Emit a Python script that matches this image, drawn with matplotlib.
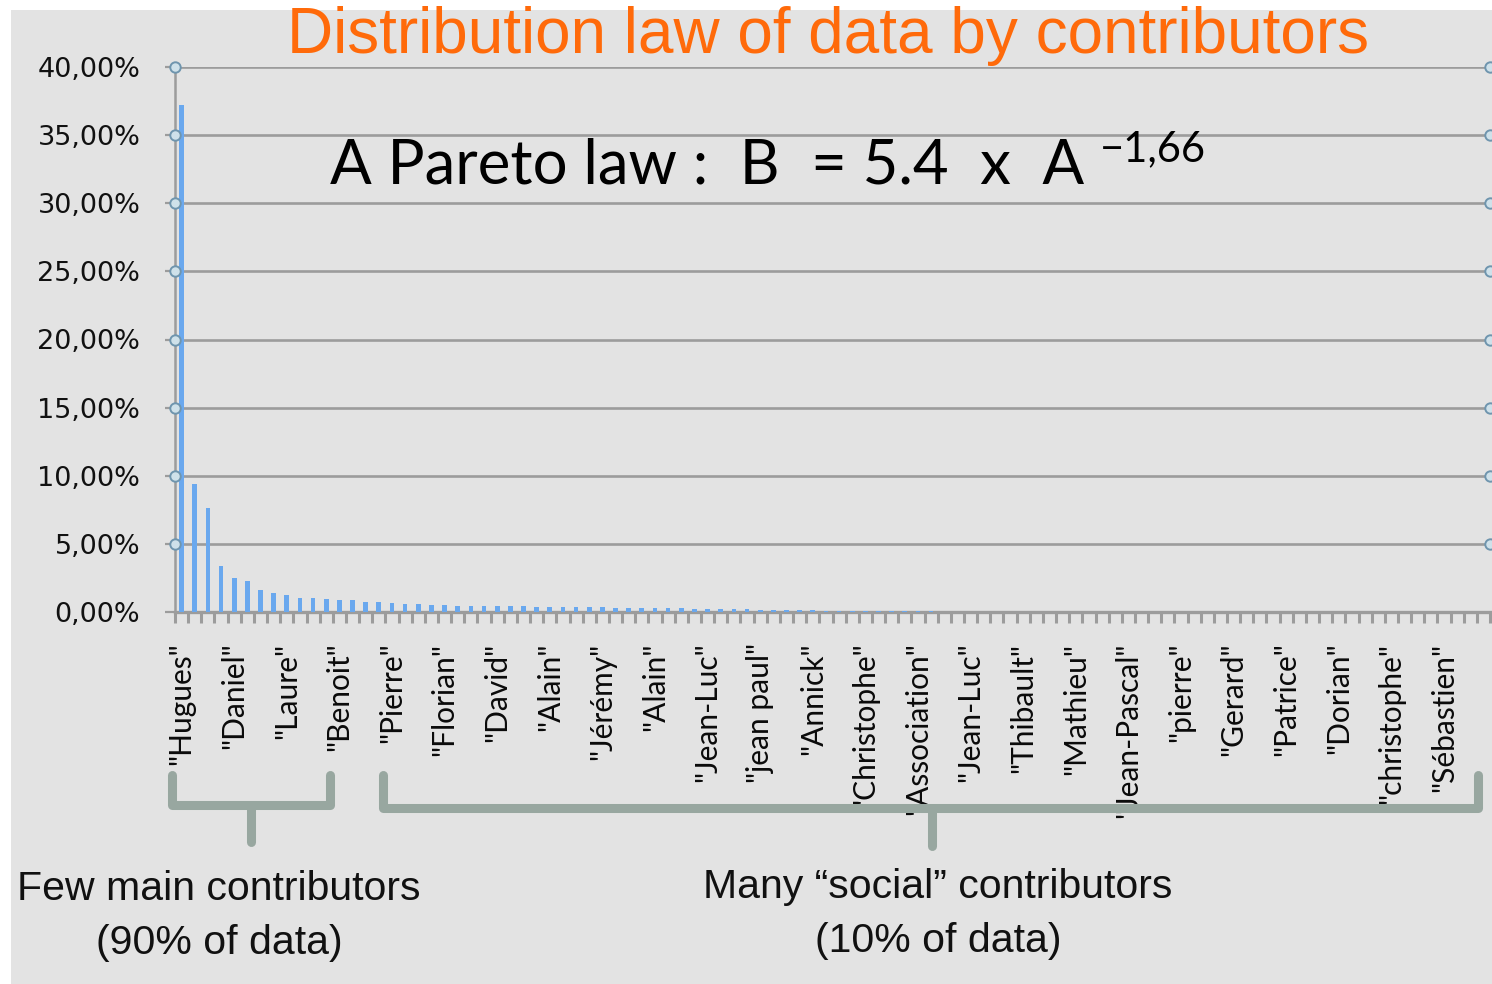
import matplotlib
matplotlib.use("Agg")
import matplotlib.pyplot as plt
import matplotlib.transforms as mtransforms
from matplotlib.patches import Rectangle
from matplotlib.lines import Line2D
import numpy as np

# ---------------- data ----------------
shares_pct = [
    37.2, 9.4, 7.6, 3.4, 2.5, 2.25, 1.6, 1.38, 1.25, 1.05,
    1.0, 0.95, 0.9, 0.85, 0.72, 0.7, 0.65, 0.6, 0.58, 0.53,
    0.5, 0.47, 0.45, 0.44, 0.43, 0.42, 0.41, 0.4, 0.39, 0.38,
    0.37, 0.36, 0.34, 0.32, 0.3, 0.29, 0.28, 0.27, 0.26, 0.25,
    0.24, 0.22, 0.2, 0.19, 0.18, 0.16, 0.15, 0.14, 0.12, 0.11,
    0.1, 0.09, 0.08, 0.07, 0.06, 0.05, 0.04, 0.04, 0.03, 0.03,
    0.03, 0.02, 0.02, 0.02, 0.02, 0.02, 0.02, 0.02, 0.02, 0.02,
    0.02, 0.02, 0.02, 0.02, 0.02, 0.02, 0.02, 0.02, 0.02, 0.02,
    0.02, 0.02, 0.02, 0.02, 0.02, 0.02, 0.02, 0.02, 0.02, 0.02,
    0.02, 0.02, 0.02, 0.02, 0.02, 0.02, 0.02, 0.02, 0.02, 0.02,
]
shown_names = [
    "Hugues", "Daniel", "Laure", "Benoit", "Pierre", "Florian", "David",
    "Alain", "Jérémy", "Alain", "Jean-Luc", "jean paul", "Annick",
    "Christophe", "Association", "Jean-Luc", "Thibault", "Mathieu",
    "Jean-Pascal", "pierre", "Gerard", "Patrice", "Dorian", "christophe",
    "Sébastien",
]
label_step = 4
y_ticks = [0, 5, 10, 15, 20, 25, 30, 35, 40]
y_tick_labels = ["0,00%", "5,00%", "10,00%", "15,00%", "20,00%",
                 "25,00%", "30,00%", "35,00%", "40,00%"]

title = "Distribution law of data by contributors"
law_text = "A Pareto law :  B  = 5.4  x  A"
law_exp = "\u22121,66"
group_main = "Few main contributors\n(90% of data)"
group_social = "Many \u201csocial\u201d contributors\n(10% of data)"

# ---------------- figure ----------------
W, H = 1492, 984
fig = plt.figure(figsize=(W / 100, H / 100), dpi=100)
fig.patch.set_facecolor("white")
bg = Rectangle((11 / W, 0), 1 - 11 / W, 1 - 10 / H, transform=fig.transFigure,
               facecolor="#e3e3e3", edgecolor="none", zorder=-10)
fig.add_artist(bg)

def px(x, y):
    return x / W, 1 - y / H

ax_left, ax_top = px(175, 67)
ax_right, ax_bot = px(1490, 612)
ax = fig.add_axes([ax_left, ax_bot, ax_right - ax_left, ax_top - ax_bot])
ax.set_facecolor("none")

n = len(shares_pct)
xs = np.arange(n)
ax.bar(xs, shares_pct, width=0.36, color="#6aa8ee", edgecolor="none", zorder=3)

ax.set_xlim(-0.5, n - 0.5)
ax.set_ylim(0, 40)

# grid lines
for yv in y_ticks[1:]:
    ax.axhline(yv, color="#9c9c9c", lw=1.9, zorder=1)
# circles at both ends
ax.plot([-0.5] * 8, y_ticks[1:], ls="none", marker="o", ms=7.5,
        mfc="#cfe1ea", mec="#6f95ae", mew=1.4, clip_on=False, zorder=5)
ax.plot([n - 0.5] * 8, y_ticks[1:], ls="none", marker="o", ms=7.5,
        mfc="#cfe1ea", mec="#6f95ae", mew=1.4, clip_on=False, zorder=5)

for s in ["top", "right"]:
    ax.spines[s].set_visible(False)
ax.spines["left"].set_color("#9c9c9c")
ax.spines["left"].set_linewidth(1.8)
ax.spines["bottom"].set_color("#9c9c9c")
ax.spines["bottom"].set_linewidth(2.4)

ax.set_yticks(y_ticks)
ax.set_yticklabels(y_tick_labels, fontsize=19.5, family="DejaVu Sans", color="#111111")
ax.tick_params(axis="y", length=7, width=1.6, color="#9c9c9c", pad=18)

# x: minor ticks at category boundaries, labels every 4th
ax.set_xticks(np.arange(-0.5, n, 1.0), minor=True)
label_pos = xs[::label_step][:len(shown_names)]
ax.set_xticks(label_pos)
ax.set_xticklabels(['"%s"' % s for s in shown_names], rotation=90,
                   fontsize=21.5, family="Lato", color="#0a0a0a", va="top", ha="center")
ax.tick_params(axis="x", which="major", length=0, pad=22)
ax.tick_params(axis="x", which="minor", length=8, width=2.2, color="#9c9c9c")

# ---------------- texts ----------------
fig.text(828 / W, 1 - 53 / H, title, ha="center", va="baseline",
         fontsize=46, color="#ff6a0a", family="Liberation Sans")

t_law = fig.text(330 / W, 1 - 183 / H, law_text, ha="left", va="baseline",
                 fontsize=44.5, color="black", family="Lato")
fig.canvas.draw()
bb = t_law.get_window_extent()
fig.text((bb.x1 + 16) / W, 1 - 161 / H, law_exp, ha="left", va="baseline",
         fontsize=30, color="black", family="Lato")

fig.text(219 / W, 1 - 916 / H, group_main, ha="center", va="center",
         fontsize=29.5, color="#111111", family="Liberation Sans", linespacing=1.55)
fig.text(938 / W, 1 - 914 / H, group_social, ha="center", va="center",
         fontsize=29.5, color="#111111", family="Liberation Sans", linespacing=1.55)

# ---------------- brackets ----------------
br_color = "#98a7a0"
tr = mtransforms.blended_transform_factory(ax.transData, fig.transFigure)

def bracket(x0, x1, xc, ytop, ybar, ytip):
    yt, yb, yp = 1 - ytop / H, 1 - ybar / H, 1 - ytip / H
    fig.add_artist(Line2D([x0, x0, x1, x1], [yt, yb, yb, yt], transform=tr,
                          color=br_color, lw=6.5, solid_joinstyle="round",
                          solid_capstyle="round", zorder=20))
    fig.add_artist(Line2D([xc, xc], [yb, yp], transform=tr, color=br_color,
                          lw=6.5, solid_capstyle="round", zorder=20))

bracket(-0.7, 11.3, 5.3, 775, 805, 842)
bracket(15.3, 98.6, 57.1, 775, 808, 846)

fig.savefig("out.png", dpi=100)
